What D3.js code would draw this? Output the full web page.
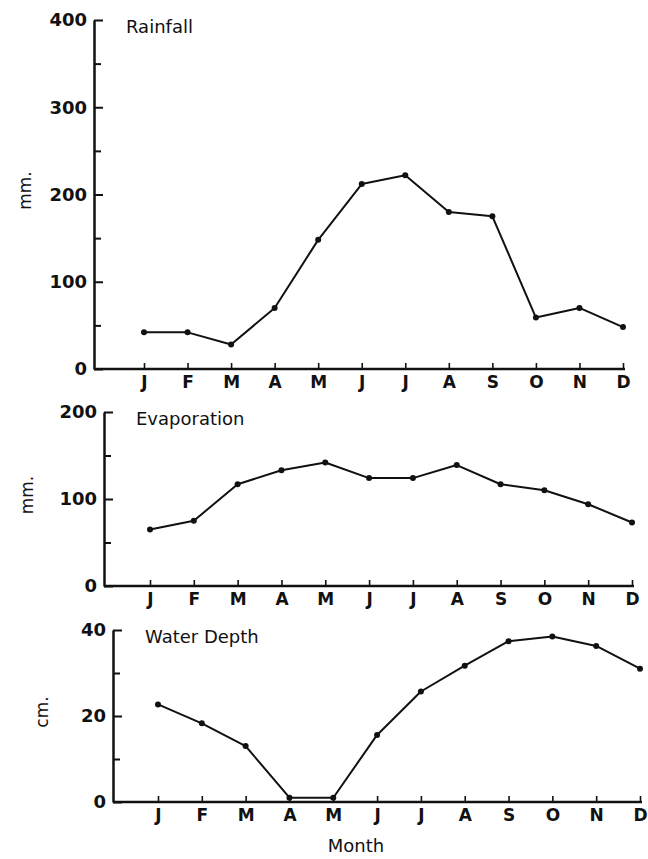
<!DOCTYPE html>
<html>
<head>
<meta charset="utf-8">
<title>Rainfall, Evaporation, Water Depth</title>
<script src="https://cdn.jsdelivr.net/npm/d3@7"></script>
<style>
  body { margin: 0; background: #fff; }
  svg { display: block; }
  .tick text { fill: #111; }
</style>
</head>
<body>
<div id="chart"></div>
<script>
// month labels and the three series
var months = ['J', 'F', 'M', 'A', 'M', 'J', 'J', 'A', 'S', 'O', 'N', 'D'];
var rainfall = [42, 42, 28, 70, 148, 212, 222, 180, 175, 59, 70, 48];
var evaporation = [65, 75, 117, 133, 142, 124, 124, 139, 117, 110, 94, 73];
var waterDepth = [22.7, 18.3, 13, 1, 1, 15.6, 25.7, 31.7, 37.4, 38.5, 36.3, 31];

var rainTicks = [0, 100, 200, 300, 400];
var evapTicks = [0, 100, 200];
var depthTicks = [0, 20, 40];

var width = 648, height = 859;
var ink = '#111';

var svg = d3.select('#chart').append('svg')
    .attr('width', width)
    .attr('height', height);

var panels = [
    { title: 'Rainfall', unit: 'mm.', values: rainfall, ticks: rainTicks,
      left: 94, top: 20, bottom: 369, first: 144, last: 623, unitX: 25 },
    { title: 'Evaporation', unit: 'mm.', values: evaporation, ticks: evapTicks,
      left: 104, top: 412, bottom: 586, first: 150, last: 632, unitX: 27 },
    { title: 'Water Depth', unit: 'cm.', values: waterDepth, ticks: depthTicks,
      left: 113, top: 630, bottom: 802, first: 158, last: 640, unitX: 42 }
];

panels.forEach(function(p) {
    var max = p.ticks[p.ticks.length - 1];
    var step = p.ticks[1] - p.ticks[0];

    var x = d3.scaleLinear().domain([0, months.length - 1]).range([p.first, p.last]);
    var y = d3.scaleLinear().domain([0, max]).range([p.bottom, p.top]);

    var g = svg.append('g');

    // minor ticks halfway between labels
    var minor = p.ticks.slice(1).map(function(t) { return t - step / 2; });
    g.append('g')
        .attr('transform', `translate(${p.left},0)`)
        .call(d3.axisLeft(y).tickValues(minor).tickSize(-7).tickSizeOuter(0).tickFormat(''))
        .call(a => a.select('.domain').remove())
        .selectAll('line').attr('stroke', ink).attr('stroke-width', 2);

    // y axis, ticks pointing inwards
    g.append('g')
        .attr('transform', `translate(${p.left},0)`)
        .call(d3.axisLeft(y).tickValues(p.ticks).tickSize(-9).tickSizeOuter(0).tickPadding(7))
        .call(a => a.select('.domain').attr('stroke', ink).attr('stroke-width', 2.5))
        .call(a => a.selectAll('line').attr('stroke', ink).attr('stroke-width', 2))
        .call(a => a.selectAll('text')
            .attr('font-family', 'DejaVu Sans, sans-serif')
            .attr('font-weight', 'bold')
            .attr('font-size', 18));

    // x axis line, from the y axis to December
    g.append('line')
        .attr('x1', p.left).attr('x2', p.last + 2)
        .attr('y1', p.bottom).attr('y2', p.bottom)
        .attr('stroke', ink).attr('stroke-width', 2.5);

    g.append('g')
        .attr('transform', `translate(0,${p.bottom})`)
        .call(d3.axisBottom(x).tickValues(d3.range(12)).tickSize(-6).tickPadding(7)
            .tickFormat(i => months[i]))
        .call(a => a.select('.domain').remove())
        .call(a => a.selectAll('line').attr('stroke', ink).attr('stroke-width', 1.6))
        .call(a => a.selectAll('text')
            .attr('font-family', 'DejaVu Sans, sans-serif')
            .attr('font-weight', 'bold')
            .attr('font-size', 17));

    // the series
    var line = d3.line()
        .x((d, i) => x(i))
        .y(d => y(d));

    g.append('path')
        .datum(p.values)
        .attr('d', line)
        .attr('fill', 'none')
        .attr('stroke', ink)
        .attr('stroke-width', 2)
        .attr('stroke-linejoin', 'round');

    g.selectAll('circle')
        .data(p.values)
        .enter()
        .append('circle')
            .attr('cx', (d, i) => x(i))
            .attr('cy', d => y(d))
            .attr('r', 3)
            .attr('fill', ink);

    // panel title
    g.append('text')
        .attr('x', p.left + 32)
        .attr('y', p.top + 13)
        .attr('font-family', 'DejaVu Sans, sans-serif')
        .attr('font-size', 18)
        .attr('fill', ink)
        .text(p.title);

    // unit, rotated
    g.append('text')
        .attr('transform', `translate(${p.unitX},${(p.top + p.bottom) / 2 - 4}) rotate(-90)`)
        .attr('text-anchor', 'middle')
        .attr('dy', '0.35em')
        .attr('font-family', 'DejaVu Sans, sans-serif')
        .attr('font-size', 17)
        .attr('fill', ink)
        .text(p.unit);
});

svg.append('text')
    .attr('x', 356)
    .attr('y', 852)
    .attr('text-anchor', 'middle')
    .attr('font-family', 'DejaVu Sans, sans-serif')
    .attr('font-size', 18)
    .attr('fill', ink)
    .text('Month');
</script>
</body>
</html>
